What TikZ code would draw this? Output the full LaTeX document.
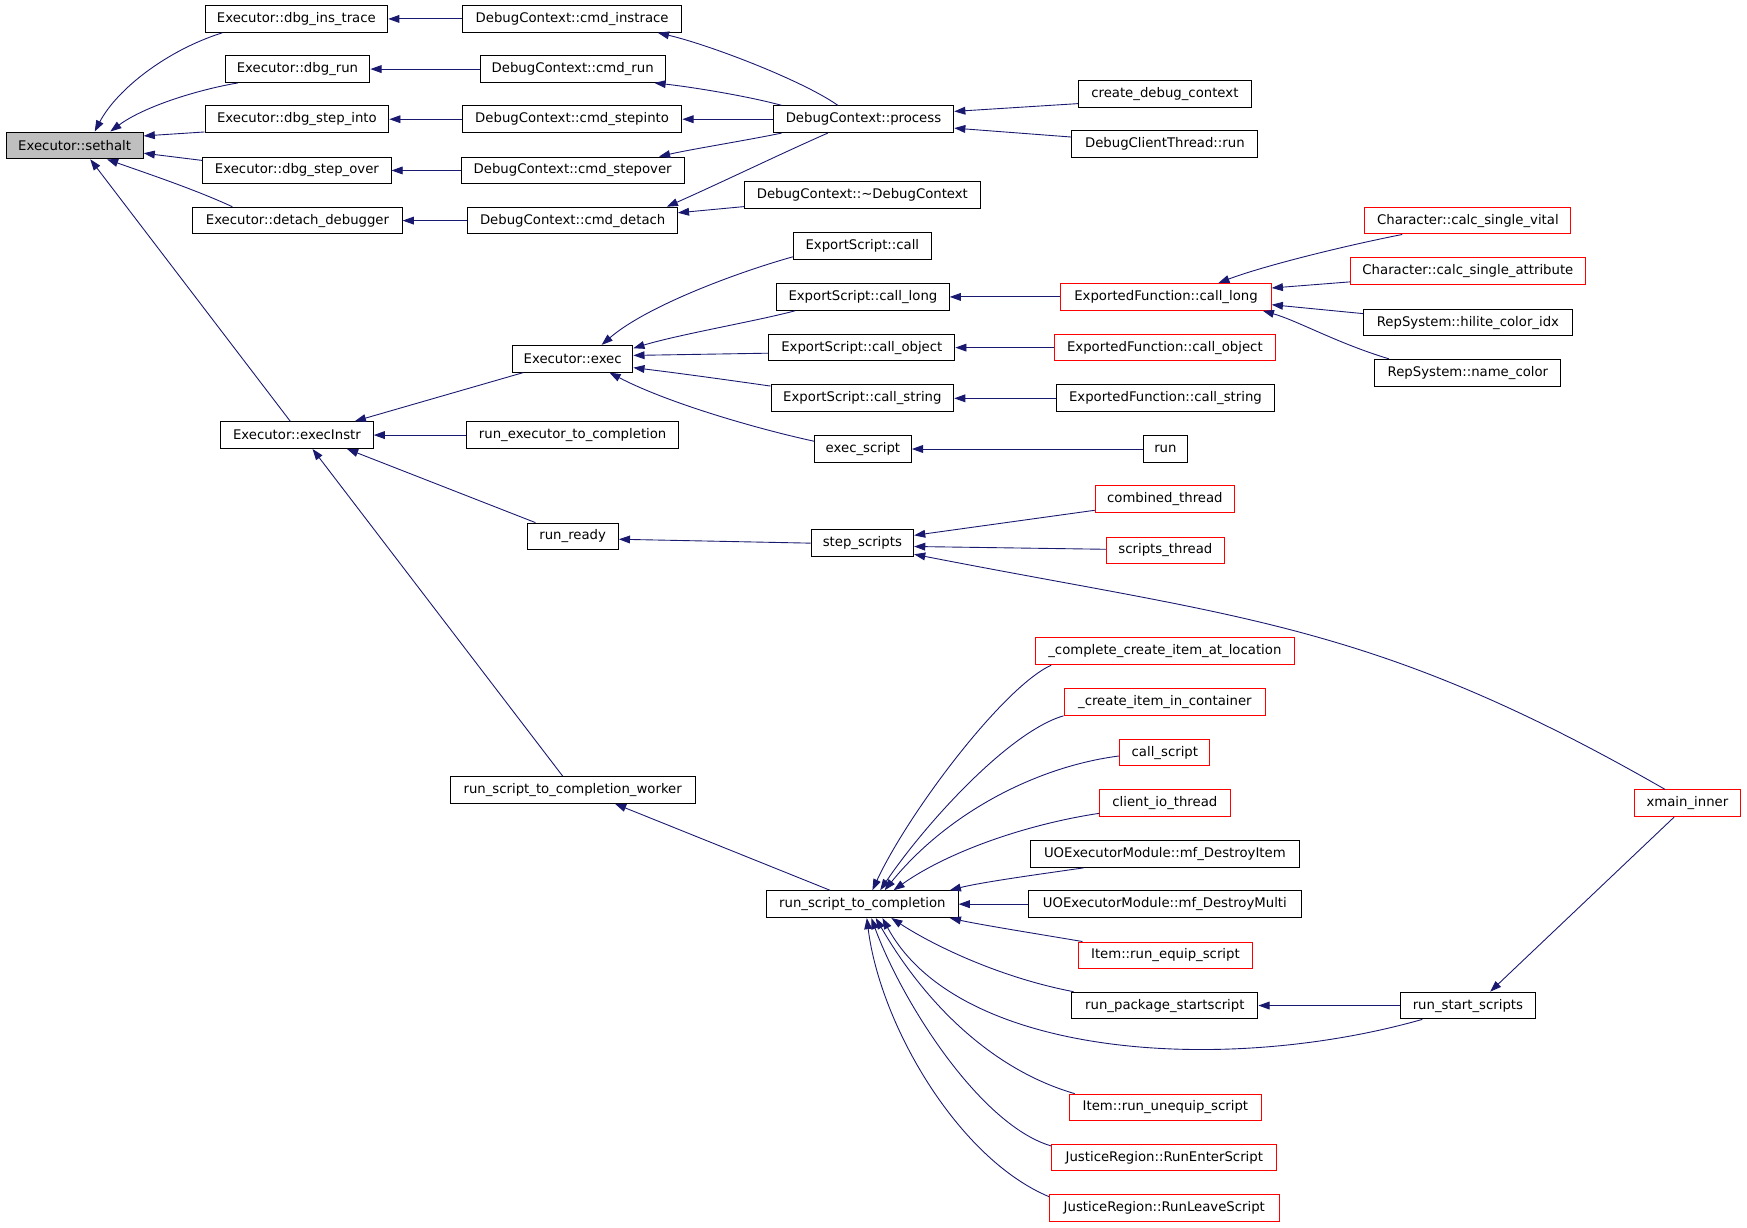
\documentclass[tikz,border=0pt]{standalone}
\usepackage{fontspec}
\usetikzlibrary{arrows.meta,calc}
\newfontfamily\boxfont{DejaVu Sans}
\definecolor{navyline}{RGB}{25,25,112}
\definecolor{grayfill}{RGB}{191,191,191}
\tikzset{
  box/.style={draw=black, line width=0.9pt, fill=white, minimum height=24pt, inner sep=0pt,
    font=\boxfont\fontsize{11.9pt}{14pt}\selectfont},
  rbox/.style={box, draw=red},
  ce/.style={draw=navyline, line width=0.8pt, -{Triangle[length=10pt,width=7pt]}},
}
\begin{document}
\begin{tikzpicture}[x=1pt,y=-1pt]
\useasboundingbox (0,0) rectangle (1568,1102);
% column 1
\node[box, fill=grayfill, minimum width=123pt] (sethalt) at (67,130.5) {Executor::sethalt};
% column 2
\node[box, minimum width=164pt] (dbgins) at (266,17) {Executor::dbg\_ins\_trace};
\node[box, minimum width=130pt] (dbgrun) at (267,62) {Executor::dbg\_run};
\node[box, minimum width=165pt] (dbgstepinto) at (266.5,107) {Executor::dbg\_step\_into};
\node[box, minimum width=169pt] (dbgstepover) at (266.5,153) {Executor::dbg\_step\_over};
\node[box, minimum width=188pt] (detach) at (267,198) {Executor::detach\_debugger};
\node[box, minimum width=137pt] (execinstr) at (266.5,390.5) {Executor::execInstr};
% column 3
\node[box, minimum width=197pt] (cmdinstrace) at (513.5,17) {DebugContext::cmd\_instrace};
\node[box, minimum width=166pt] (cmdrun) at (514,62) {DebugContext::cmd\_run};
\node[box, minimum width=197pt] (cmdstepinto) at (513.5,107) {DebugContext::cmd\_stepinto};
\node[box, minimum width=200pt] (cmdstepover) at (514,153) {DebugContext::cmd\_stepover};
\node[box, minimum width=188pt] (cmddetach) at (514,198) {DebugContext::cmd\_detach};
\node[box, minimum width=108pt] (exec) at (514,322) {Executor::exec};
\node[box, minimum width=190pt] (runexec) at (514,390.5) {run\_executor\_to\_completion};
\node[box, minimum width=82pt] (runready) at (514,481.5) {run\_ready};
\node[box, minimum width=220pt] (worker) at (514,709) {run\_script\_to\_completion\_worker};
% column 4
\node[box, minimum width=162pt] (process) at (775,107) {DebugContext::process};
\node[box, minimum width=212pt] (dtor) at (774,175) {DebugContext::\textasciitilde DebugContext};
\node[box, minimum width=124pt] (escall) at (774,220.5) {ExportScript::call};
\node[box, minimum width=155pt] (esclong) at (774.5,266.5) {ExportScript::call\_long};
\node[box, minimum width=167pt] (escobj) at (773.5,312) {ExportScript::call\_object};
\node[box, minimum width=164pt] (escstr) at (774,357.5) {ExportScript::call\_string};
\node[box, minimum width=87pt] (execscript) at (774.5,403) {exec\_script};
\node[box, minimum width=92pt] (stepscripts) at (774,487.5) {step\_scripts};
\node[box, minimum width=172pt] (rstc) at (774,811.5) {run\_script\_to\_completion};
% column 5
\node[box, minimum width=155pt] (createdbg) at (1045.5,84.5) {create\_debug\_context};
\node[box, minimum width=167pt] (dbgclient) at (1045.5,129.5) {DebugClientThread::run};
\node[rbox, minimum width=189pt] (eflong) at (1046.5,266.5) {ExportedFunction::call\_long};
\node[rbox, minimum width=199pt] (efobj) at (1045.5,312) {ExportedFunction::call\_object};
\node[box, minimum width=196pt] (efstr) at (1046,357.5) {ExportedFunction::call\_string};
\node[box, minimum width=40pt] (run) at (1046,403) {run};
\node[rbox, minimum width=125pt] (combined) at (1045.5,448) {combined\_thread};
\node[rbox, minimum width=106pt] (scriptsthread) at (1046,494) {scripts\_thread};
\node[rbox, minimum width=233pt] (complete) at (1045.5,584.5) {\_complete\_create\_item\_at\_location};
\node[rbox, minimum width=181pt] (createin) at (1045.5,630) {\_create\_item\_in\_container};
\node[rbox, minimum width=81pt] (callscript) at (1045.5,675.5) {call\_script};
\node[rbox, minimum width=117pt] (clientio) at (1045.5,721) {client\_io\_thread};
\node[box, minimum width=241pt] (mfitem) at (1045.5,766.5) {UOExecutorModule::mf\_DestroyItem};
\node[box, minimum width=245pt] (mfmulti) at (1045.5,811.5) {UOExecutorModule::mf\_DestroyMulti};
\node[rbox, minimum width=156pt] (equip) at (1046,857.5) {Item::run\_equip\_script};
\node[box, minimum width=167pt] (pkgstart) at (1045.5,902.5) {run\_package\_startscript};
\node[rbox, minimum width=172pt] (unequip) at (1046,994) {Item::run\_unequip\_script};
\node[rbox, minimum width=202pt] (enter) at (1045,1039) {JusticeRegion::RunEnterScript};
\node[rbox, minimum width=206pt] (leave) at (1045,1084.5) {JusticeRegion::RunLeaveScript};
% column 6
\node[rbox, minimum width=185pt] (vital) at (1317.5,198) {Character::calc\_single\_vital};
\node[rbox, minimum width=211pt] (attr) at (1317.5,243.5) {Character::calc\_single\_attribute};
\node[box, minimum width=187pt] (hilite) at (1317.5,289.5) {RepSystem::hilite\_color\_idx};
\node[box, minimum width=167pt] (namecolor) at (1317.5,334.5) {RepSystem::name\_color};
\node[box, minimum width=121pt] (runstart) at (1317.5,902.5) {run\_start\_scripts};
% column 7
\node[rbox, minimum width=95pt] (xmain) at (1514.5,721) {xmain\_inner};

% edges into sethalt
\draw[ce] ($(dbgins.south west)+(16,0)$) .. controls (150,45) and (105,80) .. ($(sethalt.north)+(18,0)$);
\draw[ce] ($(dbgrun.south west)+(12,0)$) .. controls (180,80) and (130,95) .. ($(sethalt.north)+(32,0)$);
\draw[ce] ($(dbgstepinto.south west)+(0,-1)$) -- ($(sethalt.east)+(0,-8.5)$);
\draw[ce] ($(dbgstepover.west)+(0,-9)$) -- ($(sethalt.east)+(0,7)$);
\draw[ce] ($(detach.north west)+(36,0)$) .. controls (175,170) and (130,155) .. ($(sethalt.south)+(29,0)$);
\draw[ce] ($(execinstr.north)+(-6,0)$) -- ($(sethalt.south)+(14,0)$);
% debug commands
\draw[ce] (cmdinstrace.west) -- (dbgins.east);
\draw[ce] (cmdrun.west) -- (dbgrun.east);
\draw[ce] (cmdstepinto.west) -- (dbgstepinto.east);
\draw[ce] (cmdstepover.west) -- (dbgstepover.east);
\draw[ce] (cmddetach.west) -- (detach.east);
% process
\draw[ce] ($(process.north)+(-23,0)$) .. controls (720,72) and (636,40) .. ($(cmdinstrace.south east)+(-22,0)$);
\draw[ce] ($(process.north west)+(8,0)$) .. controls (670,86) and (620,78) .. ($(cmdrun.south east)+(-10,0)$);
\draw[ce] (process.west) -- (cmdstepinto.east);
\draw[ce] ($(process.south west)+(8,0)$) .. controls (670,126) and (620,134) .. ($(cmdstepover.north east)+(-23,0)$);
\draw[ce] ($(process.south)+(-32,0)$) .. controls (705,136) and (645,165) .. ($(cmddetach.north east)+(-10,0)$);
\draw[ce] ($(dtor.south west)+(0,-2)$) -- ($(cmddetach.east)+(0,-7)$);
\draw[ce] ($(createdbg.west)+(0,8.5)$) -- ($(process.east)+(0,-7)$);
\draw[ce] ($(dbgclient.west)+(0,-6.5)$) -- ($(process.east)+(0,8)$);
% execInstr
\draw[ce] ($(exec.south west)+(10,0)$) -- ($(execinstr.north east)+(-17,0)$);
\draw[ce] (runexec.west) -- (execinstr.east);
\draw[ce] ($(runready.north west)+(8,0)$) -- ($(execinstr.south east)+(-24,0)$);
\draw[ce] ($(worker.north)+(-9,0)$) -- ($(execinstr.south)+(14,0)$);
% exec
\draw[ce] ($(escall.west)+(0,10)$) .. controls (660,245) and (580,275) .. ($(exec.north)+(26,0)$);
\draw[ce] ($(esclong.south west)+(17,0)$) .. controls (680,288) and (610,300) .. ($(exec.north east)+(0,3)$);
\draw[ce] ($(escobj.west)+(0,5)$) -- ($(exec.east)+(0,-3)$);
\draw[ce] ($(escstr.west)+(0,-11)$) .. controls (660,342) and (610,335) .. ($(exec.east)+(0,8)$);
\draw[ce] ($(execscript.west)+(0,-7)$) .. controls (680,385) and (600,362) .. ($(exec.south)+(33,0)$);
% export script callers
\draw[ce] (eflong.west) -- (esclong.east);
\draw[ce] (efobj.west) -- (escobj.east);
\draw[ce] (efstr.west) -- (escstr.east);
\draw[ce] (run.west) -- (execscript.east);
% exported function call_long
\draw[ce] ($(vital.south west)+(34,0)$) .. controls (1200,222) and (1130,240) .. ($(eflong.north)+(47,0)$);
\draw[ce] ($(attr.west)+(0,9.5)$) -- ($(eflong.east)+(0,-8)$);
\draw[ce] ($(hilite.west)+(0,-8)$) -- ($(eflong.east)+(0,7)$);
\draw[ce] ($(namecolor.north west)+(13,0)$) .. controls (1200,308) and (1165,288) .. ($(eflong.south east)+(-8,0)$);
% step scripts
\draw[ce] (stepscripts.west) -- ($(runready.east)+(0,2.5)$);
\draw[ce] ($(combined.west)+(0,10)$) -- ($(stepscripts.east)+(0,-7)$);
\draw[ce] ($(scriptsthread.west)+(0,-1)$) -- ($(stepscripts.east)+(0,3)$);
\draw[ce] ($(xmain.north)+(-20,0)$) .. controls (1234,559) and (1115,555) .. ($(stepscripts.east)+(0,10)$);
% run_script_to_completion
\draw[ce] ($(rstc.north)+(-29,0)$) -- ($(worker.south)+(38,0)$);
\draw[ce] ($(complete.south west)+(15,0)$) .. controls (900,617) and (815,730) .. ($(rstc.north)+(9,0)$);
\draw[ce] (createin.south west) .. controls (905,657) and (830,740) .. ($(rstc.north)+(16,0)$);
\draw[ce] ($(callscript.west)+(0,3)$) .. controls (930,688) and (850,730) .. ($(rstc.north)+(20,0)$);
\draw[ce] ($(clientio.west)+(0,9)$) .. controls (920,740) and (850,765) .. ($(rstc.north)+(28,0)$);
\draw[ce] ($(mfitem.south west)+(48,0)$) .. controls (930,785) and (880,792) .. ($(rstc.north east)+(-8,0)$);
\draw[ce] (mfmulti.west) -- (rstc.east);
\draw[ce] ($(equip.north west)+(4,0)$) .. controls (930,838) and (880,830) .. ($(rstc.south east)+(-8,0)$);
\draw[ce] ($(pkgstart.north west)+(2,0)$) .. controls (900,878) and (840,850) .. ($(rstc.south)+(26,0)$);
\draw[ce] ($(runstart.south west)+(20,0)$) .. controls (1100,965) and (860,950) .. ($(rstc.south)+(18,0)$);
\draw[ce] ($(unequip.north west)+(5,0)$) .. controls (890,960) and (830,900) .. ($(rstc.south)+(12,0)$);
\draw[ce] ($(enter.north west)+(0,2)$) .. controls (880,1010) and (810,900) .. ($(rstc.south)+(8,0)$);
\draw[ce] ($(leave.north west)+(0,2)$) .. controls (860,1040) and (790,920) .. ($(rstc.south)+(4,0)$);
% run_start_scripts
\draw[ce] (runstart.west) -- (pkgstart.east);
\draw[ce] ($(xmain.south)+(-12,0)$) -- ($(runstart.north)+(20,0)$);
\end{tikzpicture}
\end{document}
